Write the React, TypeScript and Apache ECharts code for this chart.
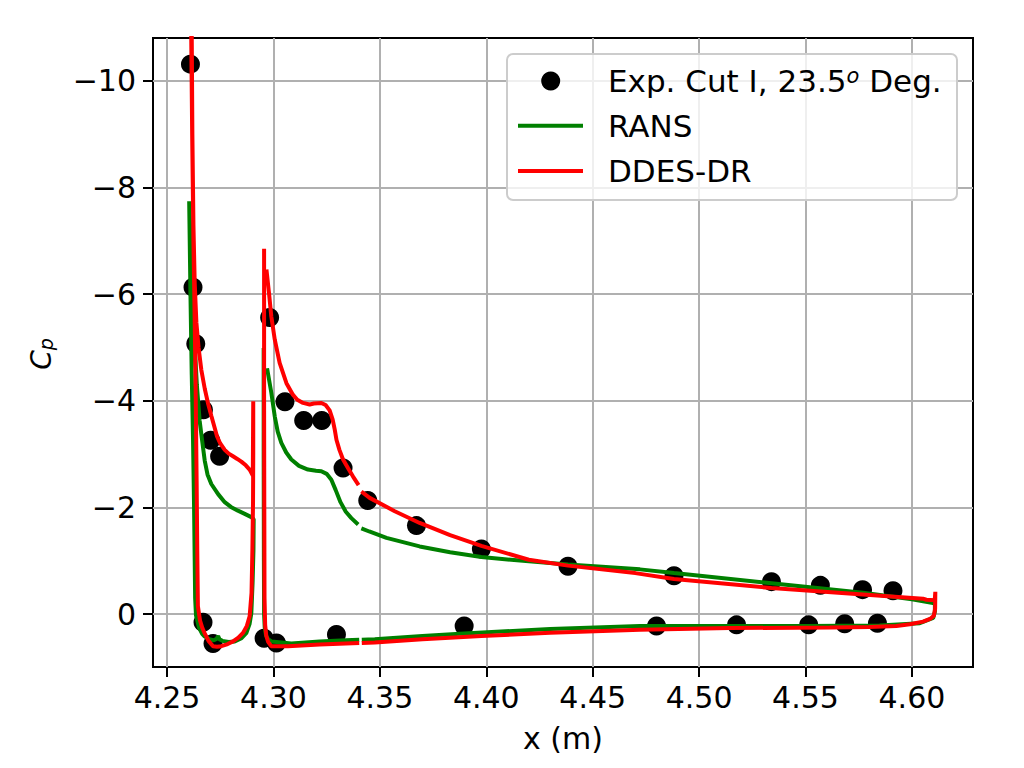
import React, { useEffect, useRef } from "react";
import * as echarts from "echarts";

// ---- Experimental data (Exp. Cut I, 23.5 deg) ----
const expX = [
  4.2610, 4.2622, 4.2635, 4.2671, 4.2705, 4.2747, 4.2669, 4.2716, 4.2956, 4.3014,
  4.2982, 4.3054, 4.3142, 4.3227, 4.3327, 4.3443, 4.3672, 4.3977, 4.4384, 4.4882,
  4.5340, 4.5570, 4.5768, 4.5911, 4.3296, 4.3896, 4.4800, 4.5176, 4.5515, 4.5684, 4.5838,
];
const expCp = [
  -10.31, -6.13, -5.07, -3.83, -3.26, -2.96, 0.15, 0.55, 0.45, 0.54,
  -5.56, -3.98, -3.63, -3.63, -2.74, -2.13, -1.66, -1.22, -0.9, -0.72,
  -0.61, -0.54, -0.46, -0.44, 0.38, 0.22, 0.22, 0.2, 0.2, 0.18, 0.17,
];

// ---- RANS, slat ----
const ransSlatX = [
  4.2604, 4.2610, 4.2616, 4.2622, 4.2627, 4.2630, 4.2632, 4.2636, 4.2650, 4.2665,
  4.2677, 4.2700, 4.2720, 4.2733, 4.2740, 4.2746, 4.2760, 4.2790, 4.2818, 4.2850,
  4.2873, 4.2888, 4.2896, 4.2902, 4.2906, 4.2907, 4.2896, 4.2865, 4.2833, 4.2800,
  4.2771, 4.2740, 4.2708, 4.2690, 4.2677, 4.2665, 4.2653, 4.2640, 4.2628, 4.2618,
  4.2608, 4.2604,
];
const ransSlatCp = [
  -7.74, -6.0, -4.5, -3.3, -2.0, -1.0, -0.3, 0.02, 0.25, 0.37,
  0.42, 0.47, 0.49, 0.46, 0.41, 0.47, 0.5, 0.52, 0.51, 0.45,
  0.35, 0.18, -0.02, -0.6, -1.2, -1.78, -1.82, -1.88, -1.94, -2.01,
  -2.1, -2.25, -2.44, -2.62, -2.88, -3.25, -3.63, -4.3, -5.2, -6.3,
  -7.3, -7.74,
];

// ---- RANS, main element (null = gap in the curve) ----
const ransMainX = [
  4.2954, 4.2954, 4.2955, 4.2956, 4.2959, 4.2965, 4.2975, 4.2990, 4.3084, 4.3217,
  4.3340, 4.3403, 4.3409, 4.3415, 4.3476, 4.3700, 4.3896, 4.4300, 4.4722, 4.5000,
  4.5500, 4.5848, 4.6037, 4.6100, 4.6108, 4.6108, 4.6099, 4.6000, 4.5770, 4.5340,
  4.4882, 4.4722, 4.4384, 4.4200, 4.3977, 4.3830, 4.3687, 4.3531, 4.3450, 4.3413,
  4.3406, 4.3398, 4.3366, 4.3340, 4.3315, 4.3292, 4.3272, 4.3250, 4.3225, 4.3200,
  4.3162, 4.3120, 4.3084, 4.3060, 4.3037, 4.3020, 4.3006, 4.2990, 4.2970,
];
const ransMainCp = [
  -4.99, -3.0, -1.0, 0.0, 0.25, 0.4, 0.47, 0.51, 0.55, 0.51,
  0.49, 0.48, null, 0.48, 0.47, 0.41, 0.36, 0.28, 0.22, 0.22,
  0.22, 0.21, 0.17, 0.07, -0.05, -0.2, -0.21, -0.28, -0.4, -0.58,
  -0.77, -0.84, -0.93, -0.99, -1.07, -1.16, -1.27, -1.43, -1.55, -1.61,
  null, -1.68, -1.8, -1.92, -2.1, -2.33, -2.52, -2.63, -2.68, -2.69,
  -2.71, -2.78, -2.9, -3.03, -3.21, -3.42, -3.71, -4.15, -4.61,
];

// ---- DDES-DR, slat ----
const ddesSlatX = [
  4.2612, 4.2618, 4.2624, 4.2630, 4.2635, 4.2639, 4.2642, 4.2645, 4.2655, 4.2666,
  4.2677, 4.2695, 4.2716, 4.2735, 4.2755, 4.2785, 4.2810, 4.2835, 4.2857, 4.2875,
  4.2888, 4.2897, 4.2901, 4.2904, 4.2905, 4.2905, 4.2903, 4.2888, 4.2870, 4.2849,
  4.2830, 4.2810, 4.2790, 4.2771, 4.2750, 4.2735, 4.2724, 4.2708, 4.2692, 4.2677,
  4.2661, 4.2648, 4.2638, 4.2630, 4.2624, 4.2619, 4.2615,
];
const ddesSlatCp = [
  -11.5, -9.0, -7.0, -5.5, -4.0, -2.5, -1.2, -0.15, 0.12, 0.26,
  0.36, 0.5, 0.6, 0.61, 0.6, 0.56, 0.51, 0.44, 0.35, 0.22,
  0.04, -0.4, -1.2, -2.1, -3.0, -3.99, -2.6, -2.71, -2.79, -2.86,
  -2.91, -2.96, -3.01, -3.08, -3.2, -3.33, -3.49, -3.72, -3.96, -4.23,
  -4.58, -5.0, -5.46, -6.2, -7.3, -9.0, -11.5,
];

// ---- DDES-DR, main element (null = gap in the curve) ----
const ddesMainX = [
  4.2956, 4.2956, 4.2957, 4.2958, 4.2961, 4.2966, 4.2975, 4.2990, 4.3068, 4.3217,
  4.3340, 4.3403, 4.3409, 4.3415, 4.3476, 4.3700, 4.3977, 4.4300, 4.4722, 4.5144,
  4.5614, 4.5800, 4.5927, 4.5990, 4.6052, 4.6085, 4.6103, 4.6109, 4.6110, 4.6107,
  4.6068, 4.6052, 4.5770, 4.5340, 4.4882, 4.4700, 4.4384, 4.4200, 4.3977, 4.3830,
  4.3687, 4.3570, 4.3452, 4.3413, 4.3406, 4.3400, 4.3374, 4.3350, 4.3327, 4.3310,
  4.3296, 4.3288, 4.3278, 4.3264, 4.3245, 4.3225, 4.3190, 4.3170, 4.3139, 4.3112,
  4.3092, 4.3061, 4.3029, 4.3006, 4.2990, 4.2979, 4.2967,
];
const ddesMainCp = [
  -6.85, -4.0, -2.0, -0.3, 0.2, 0.4, 0.52, 0.6, 0.6, 0.57,
  0.55, 0.54, null, 0.54, 0.53, 0.47, 0.41, 0.35, 0.29, 0.26,
  0.25, 0.24, 0.22, 0.19, 0.14, 0.09, 0.03, -0.1, -0.42, -0.26,
  -0.27, -0.29, -0.37, -0.49, -0.66, -0.77, -0.91, -1.02, -1.28, -1.48,
  -1.71, -1.93, -2.18, -2.3, null, -2.42, -2.58, -2.74, -2.9, -3.08,
  -3.27, -3.46, -3.65, -3.82, -3.92, -3.96, -3.95, -3.93, -3.96, -4.02,
  -4.11, -4.33, -4.71, -5.15, -5.58, -6.02, -6.46,
];

// ---- Axis ticks ----
const xTicks = [4.25, 4.3, 4.35, 4.4, 4.45, 4.5, 4.55, 4.6];
const yTicks = [-10, -8, -6, -4, -2, 0];
const xRange = [4.2434, 4.6287];
const yRange = [-10.8, 0.99];

const legendLabels = ["Exp. Cut I, 23.5", "RANS", "DDES-DR"];

const zip = (xs: number[], ys: (number | null)[]) =>
  xs.map((x, i) => [x, ys[i] === null ? NaN : ys[i]]);

const FONT = "DejaVu Sans";
const GREEN = "#008000";
const RED = "#ff0000";
const FS = 30;
const LW = 4;
const LZ = 100;

export default function App() {
  const ref = useRef<HTMLDivElement>(null);

  useEffect(() => {
    if (!ref.current) return;
    const chart = echarts.init(ref.current, undefined, { renderer: "svg" });

    const lineBase = {
      type: "line" as const,
      showSymbol: false,
      symbol: "none",
      connectNulls: false,
      clip: true,
      silent: true,
    };

    chart.setOption({
      animation: false,
      backgroundColor: "#ffffff",
      textStyle: { fontFamily: FONT },
      grid: {
        left: 153,
        right: 51,
        top: 38,
        bottom: 101,
        show: true,
        borderColor: "#000000",
        borderWidth: 2,
        backgroundColor: "transparent",
      },
      xAxis: {
        type: "value",
        min: xRange[0],
        max: xRange[1],
        axisLine: { show: false, onZero: false },
        axisTick: {
          show: true,
          inside: false,
          length: 10,
          customValues: xTicks,
          lineStyle: { color: "#000", width: 2 },
        },
        axisLabel: {
          customValues: xTicks,
          margin: 15,
          fontSize: FS,
          lineHeight: FS,
          fontFamily: FONT,
          color: "#000",
          formatter: (v: number) => v.toFixed(2),
        },
        splitLine: { show: true, lineStyle: { color: "#b0b0b0", width: 2 } },
      },
      yAxis: {
        type: "value",
        inverse: true,
        min: yRange[0],
        max: yRange[1],
        axisLine: { show: false, onZero: false },
        axisTick: {
          show: true,
          inside: false,
          length: 10,
          customValues: yTicks,
          lineStyle: { color: "#000", width: 2 },
        },
        axisLabel: {
          customValues: yTicks,
          margin: 17,
          fontSize: FS,
          lineHeight: FS,
          fontFamily: FONT,
          color: "#000",
          formatter: (v: number) => String(v).replace("-", "\u2212"),
        },
        splitLine: { show: true, lineStyle: { color: "#b0b0b0", width: 2 } },
      },
      series: [
        {
          name: "Exp",
          type: "scatter",
          data: zip(expX, expCp),
          symbol: "circle",
          symbolSize: 19,
          itemStyle: { color: "#000000", opacity: 1 },
          z: 2,
          silent: true,
        },
        { ...lineBase, name: "RANS", data: zip(ransSlatX, ransSlatCp), lineStyle: { color: GREEN, width: LW }, z: 3 },
        { ...lineBase, name: "RANS", data: zip(ransMainX, ransMainCp), lineStyle: { color: GREEN, width: LW }, z: 3 },
        { ...lineBase, name: "DDES-DR", data: zip(ddesSlatX, ddesSlatCp), lineStyle: { color: RED, width: LW }, z: 4 },
        { ...lineBase, name: "DDES-DR", data: zip(ddesMainX, ddesMainCp), lineStyle: { color: RED, width: LW }, z: 4 },
      ],
      graphic: [
        // x axis title
        {
          type: "text",
          x: 563,
          y: 738,
          style: {
            text: "x (m)",
            fontSize: FS,
            fontFamily: FONT,
            fill: "#000",
            align: "center",
            verticalAlign: "middle",
          },
        },
        // y axis title C_p
        {
          type: "text",
          x: 41,
          y: 354,
          rotation: Math.PI / 2,
          style: {
            text: "{c|C}{p|p}",
            align: "center",
            verticalAlign: "middle",
            fill: "#000",
            rich: {
              c: { fontSize: 28, fontStyle: "italic", fontFamily: FONT, lineHeight: 28, fill: "#000" },
              p: { fontSize: 19, fontStyle: "italic", fontFamily: FONT, lineHeight: 19, verticalAlign: "bottom", fill: "#000" },
            },
          },
        },
        // legend
        {
          type: "rect",
          z: LZ,
          shape: { x: 507, y: 54, width: 450, height: 146, r: 6 },
          style: { fill: "rgba(255,255,255,0.8)", stroke: "#cccccc", lineWidth: 2 },
        },
        {
          type: "circle",
          z: LZ + 1,
          shape: { cx: 550.7, cy: 81, r: 9.5 },
          style: { fill: "#000" },
        },
        {
          type: "line",
          z: LZ + 1,
          shape: { x1: 518, y1: 125.7, x2: 583, y2: 125.7 },
          style: { stroke: GREEN, lineWidth: LW },
        },
        {
          type: "line",
          z: LZ + 1,
          shape: { x1: 518, y1: 171, x2: 583, y2: 171 },
          style: { stroke: RED, lineWidth: LW },
        },
        {
          type: "text",
          z: LZ + 1,
          x: 608,
          y: 81,
          style: {
            text: `{n|${legendLabels[0]}}{s|o}{n| Deg.}`,
            verticalAlign: "middle",
            align: "left",
            fill: "#000",
            rich: {
              n: { fontSize: 31, fontFamily: FONT, lineHeight: 31, fill: "#000" },
              s: { fontSize: 21, fontFamily: FONT, fontStyle: "italic", lineHeight: 15, verticalAlign: "top", fill: "#000" },
            },
          },
        },
        {
          type: "text",
          z: LZ + 1,
          x: 608,
          y: 125.7,
          style: { text: legendLabels[1], fontSize: 31, fontFamily: FONT, fill: "#000", verticalAlign: "middle", align: "left" },
        },
        {
          type: "text",
          z: LZ + 1,
          x: 608,
          y: 171,
          style: { text: legendLabels[2], fontSize: 31, fontFamily: FONT, fill: "#000", verticalAlign: "middle", align: "left" },
        },
      ],
    });

    return () => chart.dispose();
  }, []);

  return (
    <div
      ref={ref}
      style={{ position: "fixed", left: 0, top: 0, width: 1024, height: 768, background: "#fff" }}
    />
  );
}
